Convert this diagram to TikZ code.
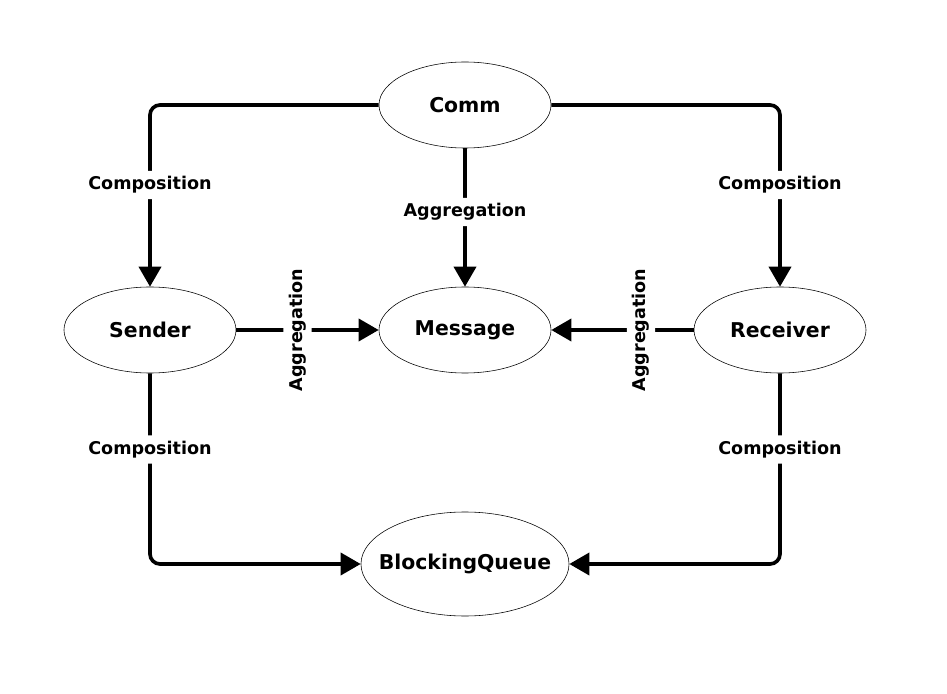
\documentclass[tikz,border=0pt]{standalone}
\usepackage{fontspec}
\setmainfont{DejaVu Sans}
\usetikzlibrary{arrows.meta,shapes.geometric}
\tikzset{
  cls/.style={ellipse, draw=black, thin, fill=white, minimum width=4.3cm, minimum height=2.15cm,
    font=\fontsize{14.5}{16}\selectfont\bfseries},
  rel/.style={black, line width=2.6pt, rounded corners=0.25cm,
    -{Triangle[length=0.5cm,width=0.55cm]}},
  lbl/.style={fill=white, inner sep=4pt, font=\fontsize{12.5}{14}\selectfont\bfseries},
}

\begin{document}
\begin{tikzpicture}[x=0.025cm, y=-0.025cm]
    \useasboundingbox (0,0) rectangle (947,694);

    % Nodes
    \node[cls] (comm) at (465,105) {Comm};
    \node[cls] (sender) at (150,330) {Sender};
    \node[cls] (message) at (465,330) {Message};
    \node[cls] (receiver) at (780,330) {Receiver};
    \node[cls, inner xsep=-10pt, minimum width=5.2cm, minimum height=2.6cm] (queue) at (465,564) {BlockingQueue};

    % Edges
    \draw[rel] (comm.west) -| (sender.north) node[lbl, pos=0.72] {Composition};
    \draw[rel] (comm.east) -| (receiver.north) node[lbl, pos=0.72] {Composition};
    \draw[rel] (comm.south) -- (message.north) node[lbl, pos=0.46] {Aggregation};
    \draw[rel] (sender.east) -- (message.west) node[lbl, pos=0.43, rotate=90] {Aggregation};
    \draw[rel] (receiver.west) -- (message.east) node[lbl, pos=0.37, rotate=90] {Aggregation};
    \draw[rel] (sender.south) |- (queue.west) node[lbl, pos=0.2] {Composition};
    \draw[rel] (receiver.south) |- (queue.east) node[lbl, pos=0.2] {Composition};
\end{tikzpicture}
\end{document}
